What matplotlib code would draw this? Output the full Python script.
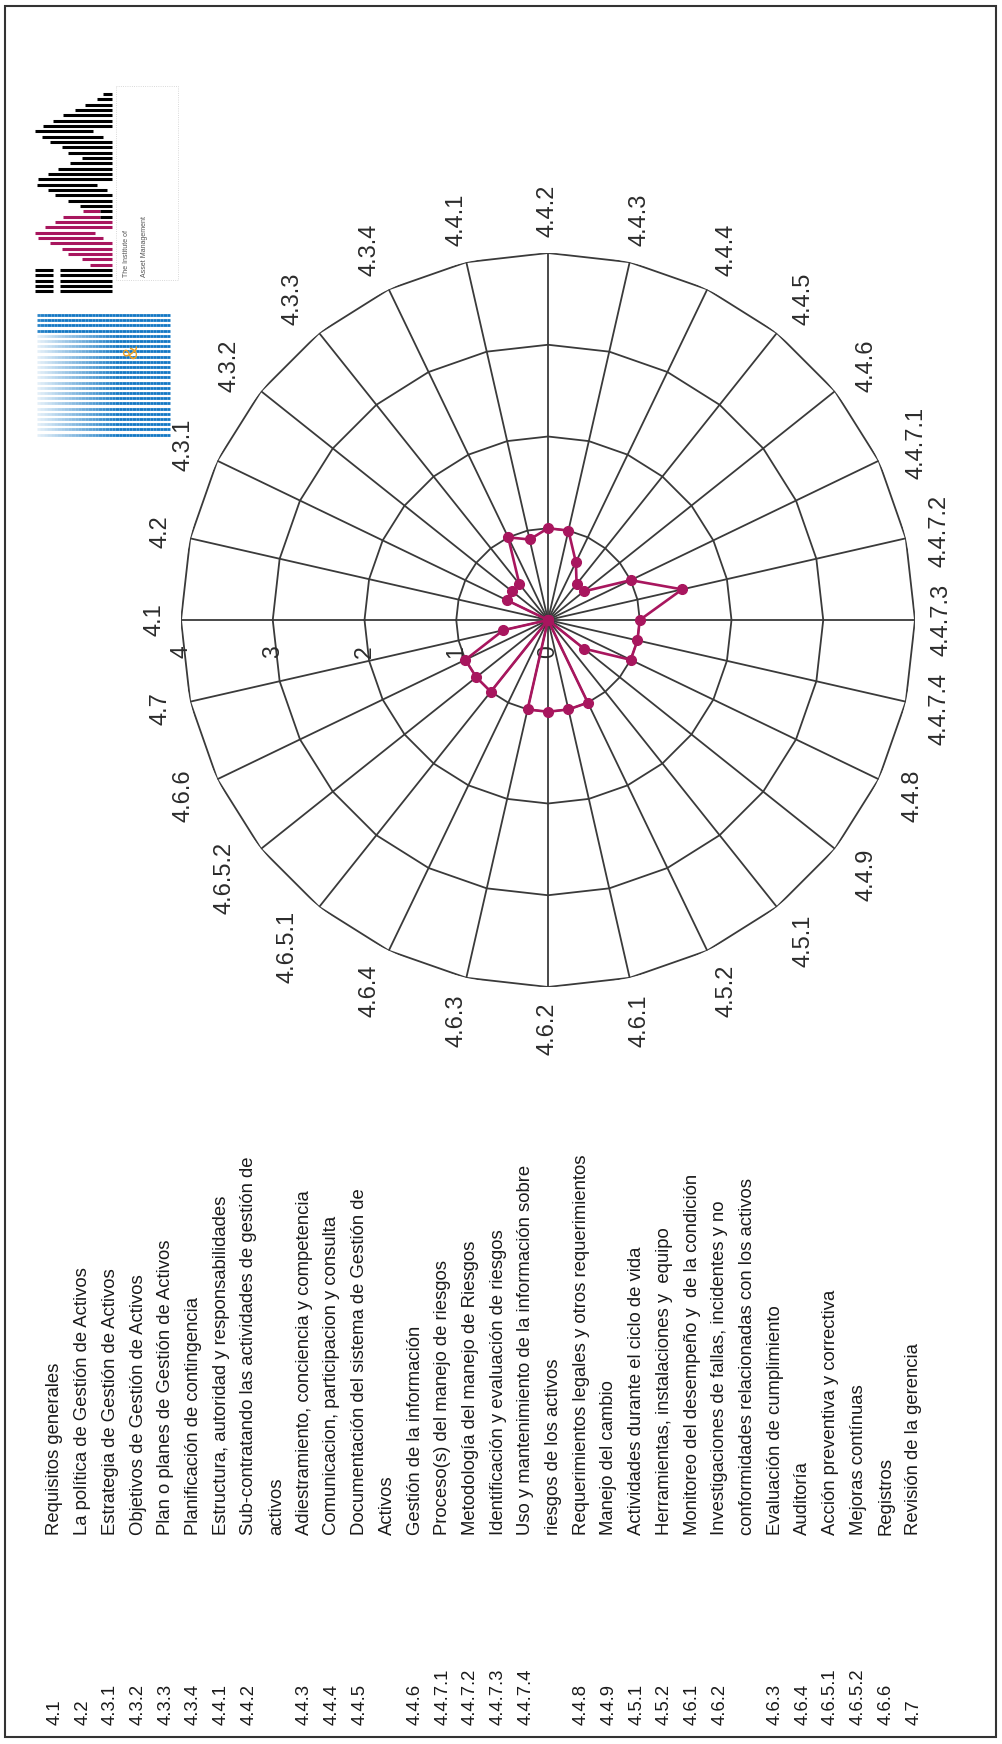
import numpy as np
import matplotlib
matplotlib.use('Agg')
import matplotlib.pyplot as plt
from matplotlib.patches import Rectangle
from matplotlib.collections import LineCollection

plt.rcParams['font.family'] = ['Liberation Sans', 'DejaVu Sans']

# ejes del radar (en orden de las agujas del reloj)
ejes = ['4.1', '4.2', '4.3.1', '4.3.2', '4.3.3', '4.3.4', '4.4.1', '4.4.2',
        '4.4.3', '4.4.4', '4.4.5', '4.4.6', '4.4.7.1', '4.4.7.2', '4.4.7.3',
        '4.4.7.4', '4.4.8', '4.4.9', '4.5.1', '4.5.2', '4.6.1', '4.6.2',
        '4.6.3', '4.6.4', '4.6.5.1', '4.6.5.2', '4.6.6', '4.7']
valores = [0, 0, 0.5, 0.5, 0.5, 1.0, 0.9, 1.0,
           1.0, 0.7, 0.5, 0.5, 1.0, 1.5, 1.0,
           1.0, 1.0, 0.5, 0, 1.0, 1.0, 1.0,
           1.0, 0, 1.0, 1.0, 1.0, 0.5]
niveles = [0, 1, 2, 3, 4]

codigos = ejes
descripciones = [
    'Requisitos generales',
    'La política de Gestión de Activos',
    'Estrategia de Gestión de Activos',
    'Objetivos de Gestión de Activos',
    'Plan o planes de Gestión de Activos',
    'Planificación de contingencia',
    'Estructura, autoridad y responsabilidades',
    'Sub-contratando las actividades de gestión de\nactivos',
    'Adiestramiento, conciencia y competencia',
    'Comunicacion, participacion y consulta',
    'Documentación del sistema de Gestión de\nActivos',
    'Gestión de la información',
    'Proceso(s) del manejo de riesgos',
    'Metodología del manejo de Riesgos',
    'Identificación y evaluación de riesgos',
    'Uso y mantenimiento de la información sobre\nriesgos de los activos',
    'Requerimientos legales y otros requerimientos',
    'Manejo del cambio',
    'Actividades durante el ciclo de vida',
    'Herramientas, instalaciones y  equipo',
    'Monitoreo del desempeño y  de la condición',
    'Investigaciones de fallas, incidentes y no\nconformidades relacionadas con los activos',
    'Evaluación de cumplimiento',
    'Auditoría',
    'Acción preventiva y correctiva',
    'Mejoras contínuas',
    'Registros',
    'Revisión de la gerencia',
]

magenta = '#a8165e'
gris = '#3a3a3a'

fig = plt.figure(figsize=(10.03, 17.44), dpi=100)

# capa en pixeles para marco, leyenda y logos
px = fig.add_axes([0, 0, 1, 1])
px.set_xlim(0, 1003)
px.set_ylim(1744, 0)
px.axis('off')
px.add_patch(Rectangle((5, 6), 991, 1731, fill=False, ec='#333333', lw=1.5))

# leyenda girada
linea = 0
for cod, desc in zip(codigos, descripciones):
    px.text(55 + 27.7 * linea, 1725, cod, rotation=90, ha='center', va='bottom',
            fontsize=13.3, color='#1a1a1a')
    for parte in desc.split('\n'):
        px.text(55 + 27.7 * linea, 1535, parte, rotation=90, ha='center',
                va='bottom', fontsize=13.3, color='#1a1a1a')
        linea += 1

# logo IAM (aprox.)
izq = [103.3, 96.7, 85, 75, 63.3, 53.3, 43.3, 35, 41.7, 50, 61.7, 68.3, 81.7,
       70, 58.3, 48.3, 38.3, 36.7, 48.3, 55, 68.3, 80, 83.3, 63.3, 55, 45, 35,
       38.3, 50, 61.7, 68.3, 81.7, 90]
der = [111.7] * len(izq)
der[7], der[8], der[17], der[18], der[26], der[27] = 93.3, 103.3, 96.7, 106.7, 95, 103.3
for k in range(len(izq)):
    y = 94 + 5.33 * k
    if k >= 22:
        corte = der[k] - 12 if k < 24 else der[k]
        px.plot([izq[k], corte], [y, y], color=magenta, lw=2.2, solid_capstyle='butt')
        if corte < der[k]:
            px.plot([corte, der[k]], [y, y], color='black', lw=2.2, solid_capstyle='butt')
    else:
        px.plot([izq[k], der[k]], [y, y], color='black', lw=2.2, solid_capstyle='butt')
for k in range(5):
    y = 94 + 5.33 * (33 + k)
    px.plot([35, 53.3], [y, y], color='black', lw=2.2, solid_capstyle='butt')
    px.plot([60, 111.7], [y, y], color='black', lw=2.2, solid_capstyle='butt')
px.add_patch(Rectangle((116, 86), 62, 194, fill=False, ec='#cccccc', lw=0.6, ls=':'))
px.text(127, 277, 'The Institute of', rotation=90, ha='center', va='bottom',
        fontsize=5, color='#555555')
px.text(145, 277, 'Asset Management', rotation=90, ha='center', va='bottom',
        fontsize=5, color='#555555')

# logo azul (aprox.)
xs = np.linspace(37, 170, 40)
for k in range(24):
    y = 315 + 5.2 * k
    segs = [[(xs[j], y), (xs[j + 1], y)] for j in range(len(xs) - 1)]
    base = 0.9 if k < 4 else 0.12
    alfa = np.clip(base + (xs[:-1] - 37) / 90, 0, 1)
    cols = [(0.08, 0.47, 0.77, a) for a in alfa]
    px.add_collection(LineCollection(segs, colors=cols, linewidths=2.0))
px.text(132, 352, '&', rotation=90, ha='center', va='center', fontsize=15,
        color='#f0a020')

# radar
ax = fig.add_axes([0.18046, 0.43406, 0.73180, 0.42087], projection='polar')
ax.set_theta_offset(np.pi)
ax.set_theta_direction(-1)
n = len(ejes)
theta = np.arange(n) * 2 * np.pi / n
tc = np.append(theta, theta[0])
for r in niveles[1:]:
    ax.plot(tc, [r] * (n + 1), color=gris, lw=1.3)
for t in theta:
    ax.plot([t, t], [0, niveles[-1]], color=gris, lw=1.3)
ax.plot(tc, np.append(valores, valores[0]), color=magenta, lw=1.9,
        marker='o', ms=7, zorder=5)
ax.set_ylim(0, niveles[-1])
ax.grid(False)
ax.set_xticks([])
ax.set_yticks([])
ax.spines['polar'].set_visible(False)
ax.patch.set_alpha(0)

for r in niveles:
    ax.annotate(str(r), xy=(0, r), xytext=(0, -32), textcoords='offset pixels',
                rotation=90, ha='center', va='center', fontsize=16.5, color='#2b2b2b')

etiquetas = []
for i, lab in enumerate(ejes):
    a = ax.annotate(lab, xy=(theta[i], niveles[-1]), xytext=(0, 0),
                    textcoords='offset pixels', rotation=90, ha='center',
                    va='center', fontsize=17, color='#2b2b2b')
    etiquetas.append(a)

fig.canvas.draw()
rend = fig.canvas.get_renderer()
for i, a in enumerate(etiquetas):
    bb = a.get_window_extent(rend)
    phi = np.pi - theta[i]
    ux, uy = np.cos(phi), np.sin(phi)
    d = 16 + abs(ux) * bb.width / 2 + abs(uy) * bb.height / 2
    a.xyann = (d * ux, d * uy)

fig.savefig('out.png', dpi=100)
